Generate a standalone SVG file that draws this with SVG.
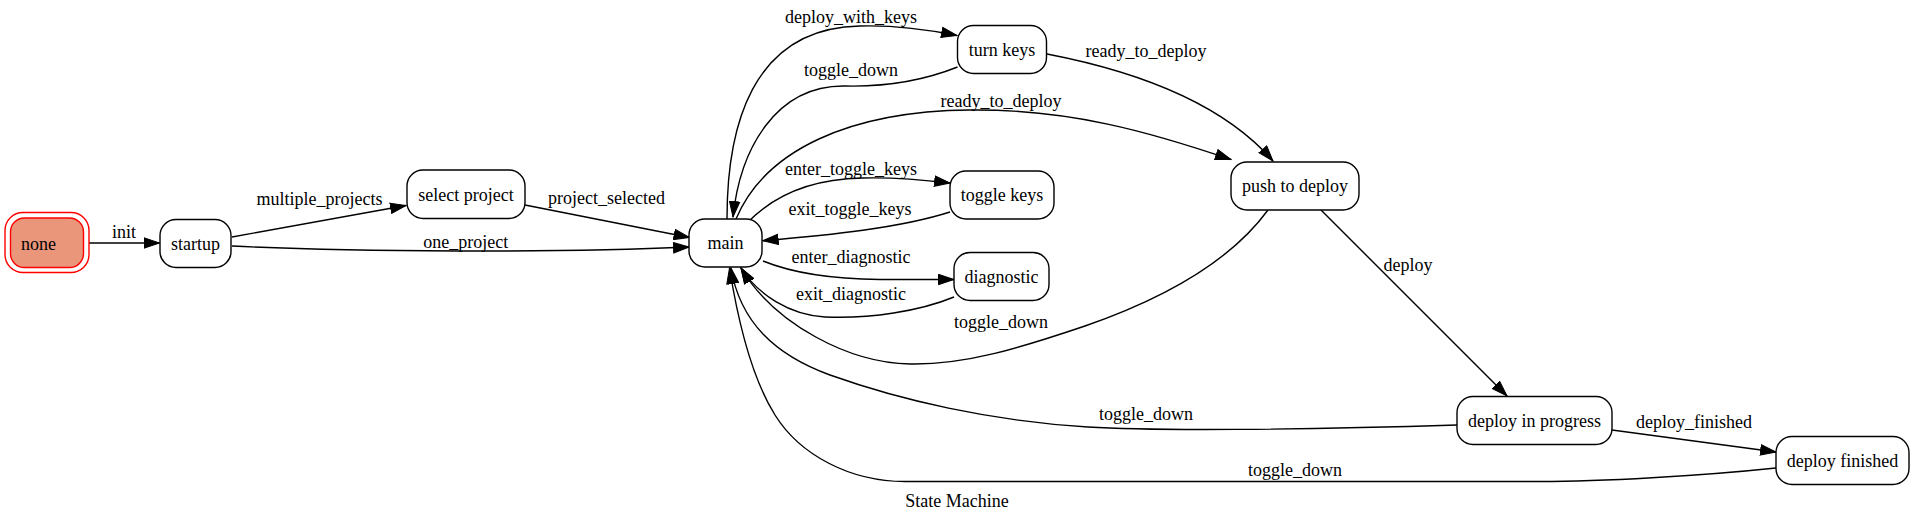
<svg xmlns="http://www.w3.org/2000/svg" width="1915" height="523" viewBox="0 0 1915 523">
<style>
  text { font-family: "Liberation Serif", "Times New Roman", serif; font-size: 18px; fill: #000; }
  .lbl { text-anchor: middle; }
  .node rect { fill: #fff; stroke: #000; stroke-width: 1.4; }
  .edge { fill: none; stroke: #000; stroke-width: 1.4; marker-end: url(#arr); }
</style>
<defs>
  <marker id="arr" markerUnits="userSpaceOnUse" markerWidth="17" markerHeight="12" viewBox="0 0 17 12" refX="16" refY="6" orient="auto">
    <path d="M0.5,0.8 L16,6 L0.5,11.2 z" fill="#000" stroke="#000" stroke-width="1"/>
  </marker>
</defs>
<rect width="1915" height="523" fill="#fff"/>

<g id="connectors">
  <path class="edge" d="M89,243 L159.5,243"/>
  <path class="edge" d="M232,237 L406,205.5"/>
  <path class="edge" d="M232,246 C350,252 560,253 689,247"/>
  <path class="edge" d="M525,205 L689.5,237.5"/>
  <path class="edge" d="M727,219 C727,130 750,28 860,26 C900,25 930,30 957,35.5"/>
  <path class="edge" d="M957.5,67 C925,80 890,87 845,86 C775,85 740,150 733,217"/>
  <path class="edge" d="M736,219 C765,150 850,111 970,110 C1070,109 1150,132 1231,159.5"/>
  <path class="edge" d="M1047,54 C1130,70 1220,100 1273,161"/>
  <path class="edge" d="M749,221 C775,195 810,179 862,178 C895,177 925,180 950,183"/>
  <path class="edge" d="M950,212 C900,228 830,235 762.7,240.7"/>
  <path class="edge" d="M763,261 C790,272 830,279 880,279.5 C910,279.5 935,279.5 954,279.5"/>
  <path class="edge" d="M954,297 C920,311 870,319 825,317 C790,315 758,295 741,268"/>
  <path class="edge" d="M1268,210 C1230,262 1160,300 1085,326 C1020,348 965,365 910,364 C850,363 775,325 741,268"/>
  <path class="edge" d="M1321,210 L1507,396"/>
  <path class="edge" d="M1612,430 L1776,452"/>
  <path class="edge" d="M1457,425 C1300,430 1150,431 1088,427 C990,421 900,400 830,375 C775,355 740,322 731,268"/>
  <path class="edge" d="M1776,468 C1700,476 1600,481.5 1540,481.5 L905,481.5 C850,481.5 800,455 775,415 C750,375 737,315 729.5,268"/>
  <text class="lbl" x="124" y="238">init</text>
  <text class="lbl" x="319.5" y="205">multiple_projects</text>
  <text class="lbl" x="465.7" y="247.5">one_project</text>
  <text class="lbl" x="606.6" y="204.3">project_selected</text>
  <text class="lbl" x="851" y="22.7">deploy_with_keys</text>
  <text class="lbl" x="851" y="76">toggle_down</text>
  <text class="lbl" x="1001" y="106.7">ready_to_deploy</text>
  <text class="lbl" x="1146" y="56.7">ready_to_deploy</text>
  <text class="lbl" x="851" y="175">enter_toggle_keys</text>
  <text class="lbl" x="850" y="215">exit_toggle_keys</text>
  <text class="lbl" x="851" y="262.7">enter_diagnostic</text>
  <text class="lbl" x="851" y="300">exit_diagnostic</text>
  <text class="lbl" x="1001" y="328.3">toggle_down</text>
  <text class="lbl" x="1408" y="270.7">deploy</text>
  <text class="lbl" x="1694" y="428.3">deploy_finished</text>
  <text class="lbl" x="1146" y="420">toggle_down</text>
  <text class="lbl" x="1295" y="476">toggle_down</text>
</g>

<g id="none">
  <rect x="5" y="212.5" width="84" height="60" rx="18" fill="none" stroke="#ff0000" stroke-width="1.4"/>
  <rect x="10.5" y="218" width="73" height="49.5" rx="14" fill="#e9967a" stroke="#ff0000" stroke-width="1.4"/>
  <text x="21" y="250">none</text>
</g>
<g id="startup" class="node">
  <rect x="160" y="219.5" width="71" height="48" rx="16"/>
  <text class="lbl" x="195.5" y="249.5">startup</text>
</g>
<g id="select_project" class="node">
  <rect x="407" y="170" width="118" height="48.5" rx="16"/>
  <text class="lbl" x="466" y="200.5">select project</text>
</g>
<g id="main" class="node">
  <rect x="689" y="219" width="73" height="48" rx="16"/>
  <text class="lbl" x="725.5" y="249">main</text>
</g>
<g id="turn_keys" class="node">
  <rect x="957.5" y="25.5" width="89" height="48" rx="16"/>
  <text class="lbl" x="1002" y="55.5">turn keys</text>
</g>
<g id="toggle_keys" class="node">
  <rect x="950" y="171" width="104" height="48" rx="16"/>
  <text class="lbl" x="1002" y="201">toggle keys</text>
</g>
<g id="diagnostic" class="node">
  <rect x="954" y="252.5" width="95" height="48" rx="16"/>
  <text class="lbl" x="1001.5" y="282.5">diagnostic</text>
</g>
<g id="push_to_deploy" class="node">
  <rect x="1231" y="162" width="128" height="48" rx="16"/>
  <text class="lbl" x="1295" y="192">push to deploy</text>
</g>
<g id="deploy_in_progress" class="node">
  <rect x="1457" y="396.5" width="155" height="48" rx="16"/>
  <text class="lbl" x="1534.5" y="426.5">deploy in progress</text>
</g>
<g id="deploy_finished" class="node">
  <rect x="1776" y="436.5" width="133" height="48" rx="16"/>
  <text class="lbl" x="1842.5" y="466.5">deploy finished</text>
</g>
<text class="lbl" x="957" y="506.7">State Machine</text>
</svg>
